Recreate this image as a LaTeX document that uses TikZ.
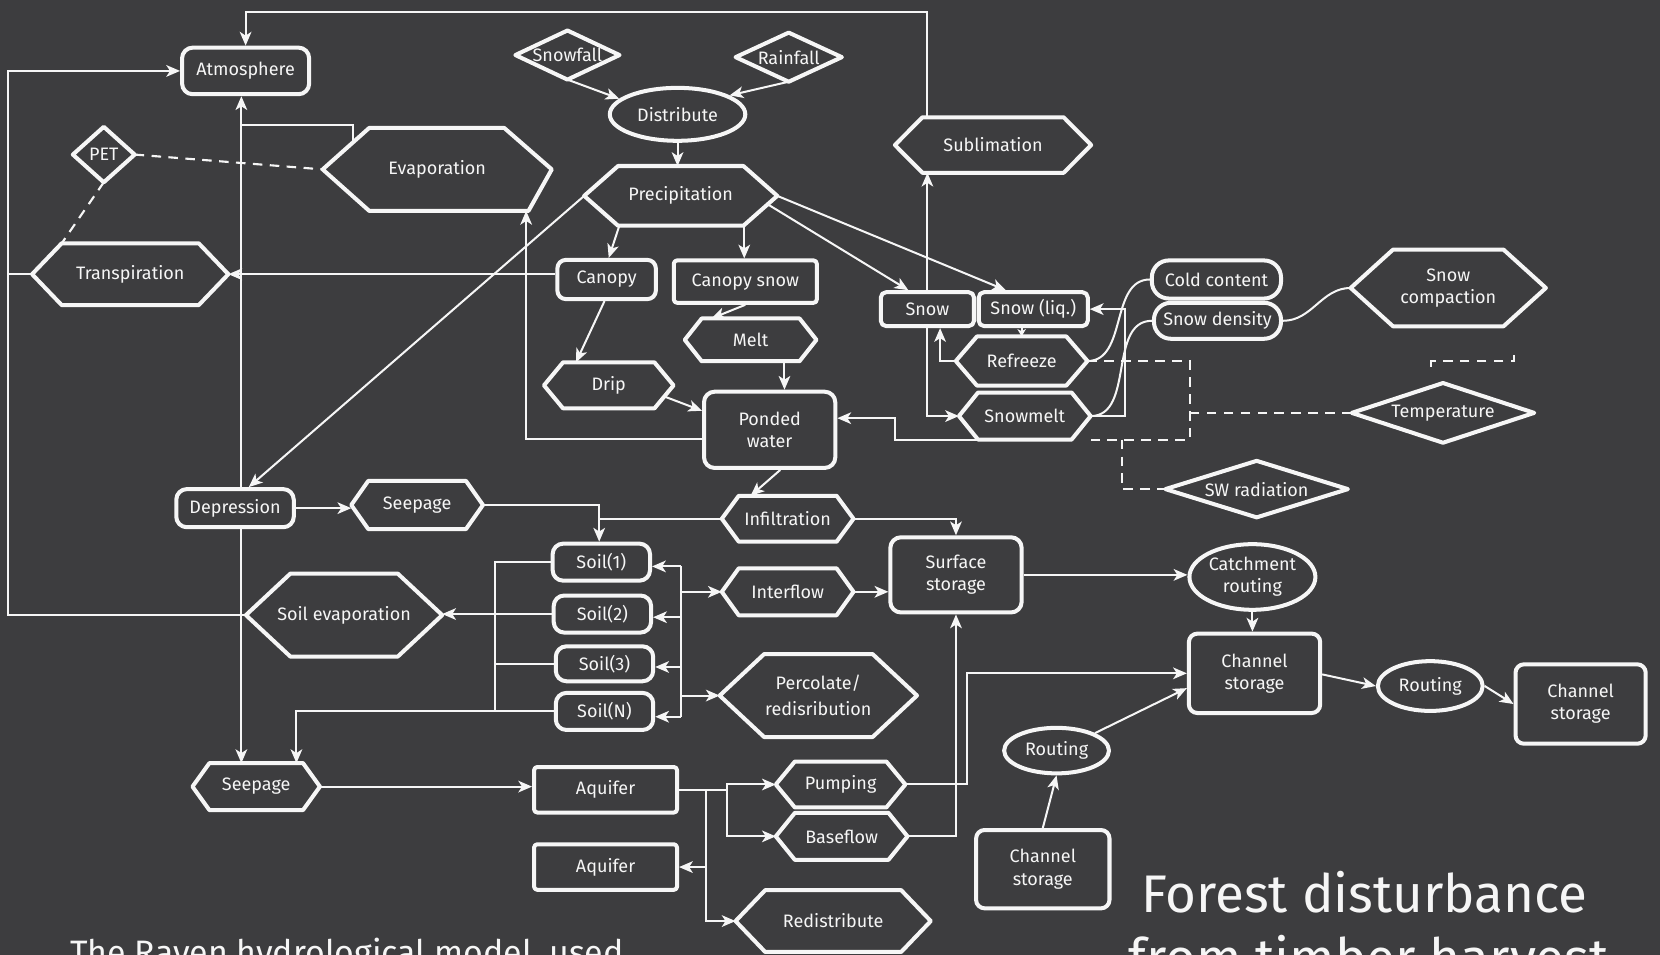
\documentclass[tikz,border=0pt]{standalone}
\usepackage{fontspec}
\setmainfont{Fira Sans}
\usetikzlibrary{arrows.meta,shapes.geometric,calc}
\definecolor{board}{RGB}{61,61,63}
\definecolor{chalk}{RGB}{246,246,246}
\begin{document}
\begin{tikzpicture}[x=1pt,y=-1pt,
  lab/.style={text=chalk, font=\fontsize{17}{21}\selectfont, align=center, inner sep=0pt},
  bx/.style={draw=chalk, line width=3.8pt, line join=round},
  rbox/.style={lab, bx, rounded corners=#1},
  rbox/.default=9pt,
  shp/.style={lab},
  ell/.style={lab, bx, ellipse},
  sz/.style 2 args={minimum width=#1pt, minimum height=#2pt},
  fl/.style={draw=chalk, line width=1.9pt, -{Stealth[length=13pt,width=11pt,inset=3.5pt]}},
  sfl/.style={draw=chalk, line width=1.9pt, -{Stealth[length=7pt,width=8pt,inset=2pt]}},
  ln/.style={draw=chalk, line width=1.9pt},
  dsh/.style={draw=chalk, line width=2pt, dash pattern=on 9pt off 7pt},
  big/.style={text=chalk, inner sep=0pt, anchor=base west}
]
\useasboundingbox (0,0) rectangle (1568,902);
\clip (0,0) rectangle (1568,902);
\fill[board] (0,0) rectangle (1568,902);

% ---------- nodes ----------
\node[rbox=10pt, sz={120}{44}] (atm) at (232,67) {Atmosphere};
\node[shp, sz={98}{46}] (snowfall) at (536,52) {Snowfall};
\node[shp, sz={100}{46}] (rainfall) at (745,54) {Rainfall};
\node[ell, sz={128}{50}] (distr) at (640,108) {Distribute};
\node[shp, sz={58}{52}] (pet) at (98,146) {PET};
\node[shp, sz={216}{78}] (evap) at (413,160) {Evaporation};
\node[shp, sz={185}{52}] (subl) at (938,137) {Sublimation};
\node[shp, sz={182}{56}] (prec) at (643,185) {Precipitation};
\node[shp, sz={185}{58}] (transp) at (123,259) {Transpiration};
\node[rbox=8pt, sz={93}{37}] (canopy) at (573,264) {Canopy};
\node[rbox=3pt, sz={135}{40}] (csnow) at (704,266) {Canopy snow};
\node[rbox=5pt, sz={88}{32}] (snow) at (876,292) {Snow};
\node[rbox=5pt, sz={103}{32}] (snowliq) at (976,292) {Snow (liq.)};
\node[rbox=16pt, sz={122}{36}] (cold) at (1149,264) {Cold content};
\node[rbox=16pt, sz={120}{34}] (sdens) at (1150,303) {Snow density};
\node[shp, sz={184}{72}] (scomp) at (1368,272) {Snow\\compaction};
\node[shp, sz={124}{40}] (melt) at (709,321) {Melt};
\node[shp, sz={124}{46}] (refr) at (965,341) {Refreeze};
\node[shp, sz={122}{43}] (drip) at (575,364) {Drip};
\node[rbox=10pt, sz={124}{72}] (ponded) at (727,406) {Ponded\\water};
\node[shp, sz={124}{44}] (smelt) at (968,393) {Snowmelt};
\node[shp, sz={172}{56}] (temp) at (1363,390) {Temperature};
\node[shp, sz={172}{53}] (swrad) at (1187,462) {SW radiation};
\node[rbox=10pt, sz={111}{36}] (depr) at (222,480) {Depression};
\node[shp, sz={124}{45}] (seep1) at (394,477) {Seepage};
\node[shp, sz={124}{43}] (infil) at (744,490) {Infiltration};
\node[rbox=10pt, sz={92}{35}] (soil1) at (568,531) {Soil(1)};
\node[rbox=10pt, sz={124}{71}] (surf) at (903,543) {Surface\\storage};
\node[ell, sz={119}{62}] (catch) at (1183,545) {Catchment\\routing};
\node[shp, sz={124}{44}] (interf) at (744,559) {Interflow};
\node[rbox=10pt, sz={92}{35}] (soil2) at (569,580) {Soil(2)};
\node[shp, sz={185}{78}] (sevap) at (325,581) {Soil evaporation};
\node[rbox=10pt, sz={92}{33}] (soil3) at (571,627) {Soil(3)};
\node[rbox=8pt, sz={124}{75}] (chan1) at (1185,636) {Channel\\storage};
\node[shp, sz={186}{78}] (perc) at (773,657) {Percolate/\\[4pt]redisribution};
\node[ell, sz={99}{47}] (rout1) at (1351,648) {Routing};
\node[rbox=8pt, sz={123}{75}] (chan2) at (1493,665) {Channel\\storage};
\node[rbox=10pt, sz={92}{35}] (soilN) at (571,672) {Soil(N)};
\node[ell, sz={99}{43}] (rout2) at (998,709) {Routing};
\node[shp, sz={120}{44}] (seep2) at (242,743) {Seepage};
\node[rbox=3pt, sz={135}{43}] (aq1) at (572,746) {Aquifer};
\node[shp, sz={122}{43}] (pump) at (794,741) {Pumping};
\node[shp, sz={124}{44}] (base) at (795,790) {Baseflow};
\node[rbox=8pt, sz={126}{74}] (chan3) at (985,821) {Channel\\storage};
\node[rbox=3pt, sz={135}{43}] (aq2) at (572,819) {Aquifer};
\node[shp, sz={184}{58}] (redis) at (787,870) {Redistribute};

% ---------- hexagon and diamond outlines ----------
\foreach \n/\p in {subl/26,prec/32,transp/28,scomp/40,melt/16,refr/20,drip/18,smelt/18,seep1/16,infil/16,interf/16,sevap/42,perc/42,seep2/16,pump/18,base/18,redis/28}{
  \draw[bx] (\n.west) -- ([xshift=\p pt]\n.north west) -- ([xshift=-\p pt]\n.north east) -- (\n.east) -- ([xshift=-\p pt]\n.south east) -- ([xshift=\p pt]\n.south west) -- cycle;
}
\draw[bx] (evap.west) -- ([xshift=44pt]evap.north west) -- ([xshift=-45pt]evap.north east) -- (evap.east) -- ([xshift=-22pt]evap.south east) -- ([xshift=44pt]evap.south west) -- cycle;
\foreach \n in {pet,snowfall,rainfall,temp,swrad}{
  \draw[bx] (\n.west) -- (\n.north) -- (\n.east) -- (\n.south) -- cycle;
}

% ---------- helper coordinates ----------
\coordinate (lx) at (8,0);
\coordinate (topy) at (0,11);
\coordinate (sx) at (468,0);
\coordinate (rx) at (643,0);
\coordinate (dx) at (1124,0);
\coordinate (dx2) at (1060,0);
\coordinate (s1t) at ([xshift=-2pt]soil1.north);
\coordinate (s1e) at ([yshift=-4pt]soil1.east);
\coordinate (s2e) at ([yshift=-3pt]soil2.east);
\coordinate (s3e) at ([yshift=-3pt]soil3.east);
\coordinate (sNe) at ([yshift=-5pt]soilN.east);
\coordinate (aqj) at ([xshift=25pt]aq1.east);
\coordinate (sc1) at ([xshift=62pt,yshift=-27pt]scomp.south);
\coordinate (tp1) at ([xshift=-11pt,yshift=12pt]temp.north);

% ---------- connectors: top ----------
\draw[fl] (snowfall.south) -- (distr.165);
\draw[fl] (rainfall.south) -- (distr.20);
\draw[fl] (distr.south) -- (distr.south |- prec.north);
\draw[fl] ([xshift=-58pt]prec.south) -- ([xshift=2pt]canopy.north);
\draw[fl] ([xshift=60pt]prec.south) -- ([xshift=-1pt]csnow.north);
\draw[fl] ([xshift=-9pt,yshift=-8pt]prec.east) -- ([xshift=-18pt]snow.north);
\draw[fl] (prec.east) -- ([xshift=-26pt]snowliq.north);
\draw[fl] (prec.west) -- ([xshift=13pt]depr.north);
\draw[fl] (canopy.west |- transp.east) -- (transp.east);
\draw[fl] ([xshift=-2pt]canopy.south) -- ([xshift=-31pt]drip.north);
\draw[fl] (csnow.south) -- ([xshift=-37pt]melt.north);
\draw[fl] ([xshift=32pt]melt.south) -- ([xshift=32pt]melt.south |- ponded.north);
\draw[fl] ([xshift=-10pt,yshift=-10pt]drip.east) -- ([yshift=18pt]ponded.west);
\draw[fl] ([yshift=-9pt]ponded.west) -| ([xshift=84pt]evap.south);
\draw[fl] ([xshift=10pt]ponded.south) -- ([xshift=-35pt]infil.north);
\draw[fl] ([xshift=-42pt]smelt.south) -- ++(-81,0) |- ([yshift=11pt]ponded.east);
\draw[fl] (snow.south) |- (smelt.west);
\draw[fl] (refr.west) -| ([xshift=12pt]snow.south);
\draw[sfl] (snowliq.south -| refr.north) -- (refr.north);
\draw[fl] (smelt.east) -- ++(32,0) |- (snowliq.east);
\draw[ln] (refr.east) to[out=0,in=180] (cold.west);
\draw[ln] (smelt.east) to[out=0,in=180] (sdens.west);
\draw[ln] (sdens.east) to[out=0,in=180] (scomp.west);
\draw[fl] (snow.north) -- (snow.north |- subl.south);
\draw[fl] (snow.north |- subl.north) -- (snow.north |- topy) -| (atm.north);

% ---------- dashed links ----------
\draw[dsh] (pet.east) -- (evap.west);
\draw[dsh] (pet.south) -- ([xshift=28pt]transp.north west);
\draw[dsh] (refr.east) -- (refr.east -| dx) -- (dx |- smelt.south) -- (smelt.south east);
\draw[dsh] (temp.west) -- (temp.west -| dx);
\draw[dsh] (dx2 |- smelt.south) |- (swrad.west);
\draw[dsh] (sc1) -- ++(0,6) -| (tp1);

% ---------- left loops ----------
\draw[fl] ([xshift=6pt]depr.north) -- ([xshift=6pt]depr.north |- atm.south);
\draw[ln] ([xshift=29pt,yshift=26pt]evap.west) -- ++(0,-16) -- ++(-106,0);
\draw[fl] (transp.west) -| (lx |- atm.west) -- (atm.west);
\draw[ln] (sevap.west) -| (lx |- transp.west);
\draw[fl] ([xshift=6pt]depr.south) -- ([xshift=6pt]depr.south |- seep2.north);

% ---------- soil and surface ----------
\draw[fl] (depr.east) -- (depr.east -| seep1.west);
\draw[fl] (seep1.east) -| (s1t);
\draw[ln] (infil.west) -- (infil.west -| s1t);
\draw[fl] (infil.east) -| (surf.north);
\draw[fl] (interf.east) -- (interf.east -| surf.west);
\draw[fl] (surf.east) -- (surf.east -| catch.west);
\draw[fl] (catch.south) -- (catch.south |- chan1.north);
\draw[fl] ([yshift=-1pt]chan1.east) -- (rout1.west);
\draw[fl] (rout1.east) -- (chan2.west);
\draw[fl] (rout2.north east) -- ([yshift=-14pt]chan1.west);
\draw[fl] (chan3.north) -- (rout2.south);

\draw[ln] (soil1.west) -- (soil1.west -| sx) -- (sx |- soilN.west);
\draw[ln] (soil2.west) -- (soil2.west -| sx);
\draw[ln] (soil3.west) -- (soil3.west -| sx);
\draw[fl] (soil2.west -| sx) -- (soil2.west -| sevap.east);
\draw[fl] (soilN.west) -| ([xshift=38pt]seep2.north);

\draw[ln] (rx |- s1e) -- (rx |- sNe);
\foreach \s in {s1e,s2e,s3e,sNe}{\draw[fl] (rx |- \s) -- (\s);}
\draw[fl] (rx |- interf.west) -- (interf.west);
\draw[fl] (rx |- perc.west) -- (perc.west);

% ---------- groundwater ----------
\draw[fl] (seep2.east) -- (seep2.east -| aq1.west);
\draw[fl] (aq1.east) -- (aqj) |- (redis.west);
\draw[fl] (aqj |- aq2.east) -- (aq2.east);
\draw[fl] (aqj) -- ++(20,0) |- (pump.west);
\draw[fl] ([xshift=20pt]aqj) |- (base.west);
\draw[fl] (pump.east) -- ++(58,0) |- (chan1.west);
\draw[fl] (base.east) -| (surf.south);

% ---------- titles ----------
\node[big, font=\fontsize{50}{50}\selectfont] (title1) at (1078,862) {Forest disturbance};
\node[big, font=\fontsize{50}{50}\selectfont] (title2) at (1066,922) {from timber harvest};
\node[big, font=\fontsize{32}{32}\selectfont] (caption) at (66,911) {The Raven hydrological model, used};
\end{tikzpicture}
\end{document}
